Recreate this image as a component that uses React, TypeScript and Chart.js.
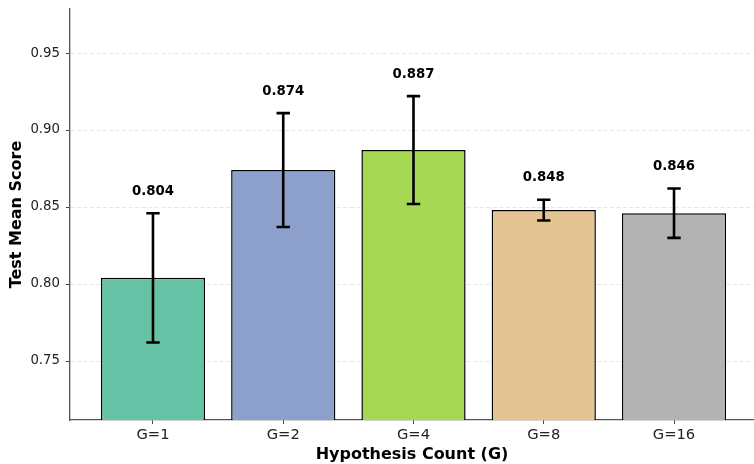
import React, { useEffect, useRef } from "react";
import { Chart, registerables } from "chart.js";

Chart.register(...registerables);

const categories = ["G=1", "G=2", "G=4", "G=8", "G=16"];
const means = [0.804, 0.874, 0.887, 0.848, 0.846];
const errors = [0.042, 0.037, 0.035, 0.0067, 0.016];
const colors = ["#66c2a5", "#8da0cb", "#a6d854", "#e5c494", "#b3b3b3"];
const yTicks = [0.75, 0.8, 0.85, 0.9, 0.95];

const FONT = "'DejaVu Sans', sans-serif";

const errorBarPlugin = {
  id: "errorBars",
  afterDatasetsDraw(chart: any) {
    const ctx = chart.ctx;
    const xs = chart.scales.x;
    const ys = chart.scales.y;
    ctx.save();
    means.forEach((m, i) => {
      const x = xs.getPixelForValue(i);
      const yTop = ys.getPixelForValue(m + errors[i]);
      const yBot = ys.getPixelForValue(m - errors[i]);
      ctx.strokeStyle = "#000";
      ctx.lineWidth = 2.6;
      ctx.beginPath();
      ctx.moveTo(x, yTop);
      ctx.lineTo(x, yBot);
      ctx.moveTo(x - 6.7, yTop);
      ctx.lineTo(x + 6.7, yTop);
      ctx.moveTo(x - 6.7, yBot);
      ctx.lineTo(x + 6.7, yBot);
      ctx.stroke();
      ctx.fillStyle = "#000";
      ctx.font = `bold 13.3px ${FONT}`;
      ctx.textAlign = "center";
      ctx.textBaseline = "alphabetic";
      const ly = ys.getPixelForValue(m + errors[i] + 0.01) - 3;
      ctx.fillText(m.toFixed(3), x, ly);
    });
    ctx.restore();
  },
};

export default function App() {
  const ref = useRef<HTMLCanvasElement>(null);
  useEffect(() => {
    const chart = new Chart(ref.current!, {
      type: "bar",
      data: {
        datasets: [
          {
            data: means.map((m, i) => ({ x: i, y: m })),
            backgroundColor: colors,
            borderColor: "#000",
            borderWidth: 1.5,
            barPercentage: 0.8,
            categoryPercentage: 1.0,
            base: 0.5,
          } as any,
        ],
      },
      options: {
        responsive: false,
        animation: false,
        devicePixelRatio: 1,
        layout: { padding: { top: 9, right: 0, left: 0, bottom: 0 } },
        plugins: { legend: { display: false }, tooltip: { enabled: false } },
        scales: {
          x: {
            type: "linear",
            offset: false,
            min: -0.637,
            max: 4.614,
            afterBuildTicks: (axis: any) => {
              axis.ticks = categories.map((_, i) => ({ value: i }));
            },
            afterFit: (scale: any) => {
              scale.height = 44;
              scale.paddingLeft = 0;
              scale.paddingRight = 0;
            },
            ticks: {
              callback: (v: any) => categories[Math.round(Number(v))],
              font: { family: FONT, size: 14.7 },
              color: "#222",
              padding: 2,
              maxRotation: 0,
              autoSkip: false,
            },
            grid: {
              offset: false,
              drawOnChartArea: false,
              drawTicks: true,
              tickLength: 4,
              tickColor: "#444",
              tickWidth: 1,
            },
            border: { display: true, color: "#555", width: 1.3 },
            title: {
              display: true,
              text: "Hypothesis Count (G)",
              font: { family: FONT, size: 16, weight: "bold" },
              color: "#000",
              padding: { top: 0, bottom: 0 },
            },
          },
          y: {
            type: "linear",
            min: 0.7117,
            max: 0.9786,
            afterBuildTicks: (axis: any) => {
              axis.ticks = yTicks.map((v) => ({ value: v }));
            },
            afterFit: (scale: any) => {
              scale.width = 70;
              scale.paddingTop = 0;
              scale.paddingBottom = 0;
            },
            ticks: {
              callback: (v: any) => Number(v).toFixed(2),
              font: { family: FONT, size: 13.3 },
              color: "#222",
              padding: 6,
            },
            grid: {
              color: "rgba(200,200,200,0.5)",
              lineWidth: 0.9,
              drawTicks: true,
              tickLength: 4,
              tickColor: "#444",
              tickWidth: 1,
              tickBorderDash: [],
            },
            border: { display: true, color: "#555", width: 1.3, dash: [4, 2.5] },
            title: {
              display: true,
              text: "Test Mean Score",
              font: { family: FONT, size: 16, weight: "bold" },
              color: "#000",
              padding: { top: 7, bottom: 0 },
            },
          },
        },
      } as any,
      plugins: [errorBarPlugin],
    });
    return () => chart.destroy();
  }, []);
  return (
    <div style={{ position: "absolute", left: 0, top: 0, width: 754, height: 464 }}>
      <canvas ref={ref} width={754} height={464} />
    </div>
  );
}
